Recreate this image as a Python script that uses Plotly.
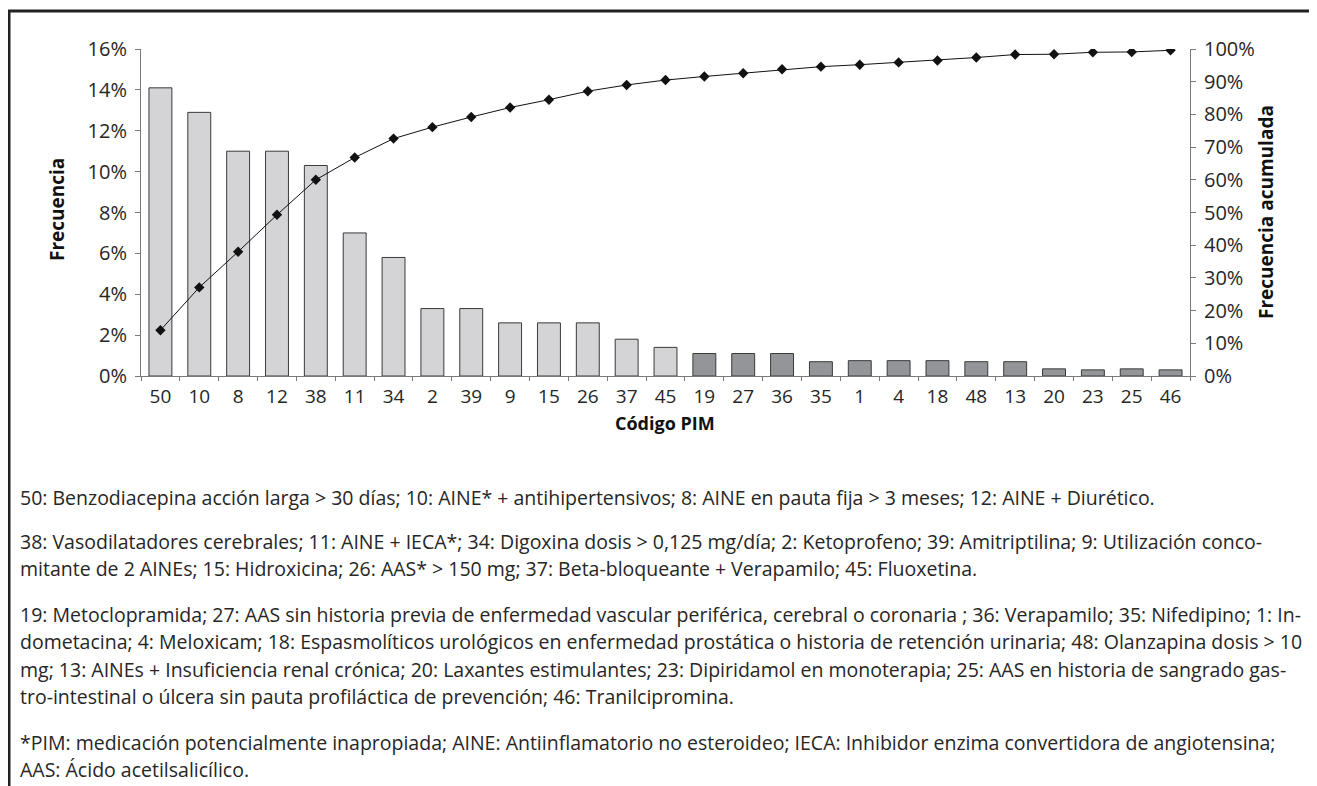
import plotly.graph_objects as go

codes = ["50", "10", "8", "12", "38", "11", "34", "2", "39", "9", "15", "26", "37", "45",
         "19", "27", "36", "35", "1", "4", "18", "48", "13", "20", "23", "25", "46"]
frecuencia = [14.1, 12.9, 11.0, 11.0, 10.3, 7.0, 5.8, 3.3, 3.3, 2.6, 2.6, 2.6, 1.8, 1.4,
              1.1, 1.1, 1.1, 0.7, 0.75, 0.75, 0.75, 0.7, 0.7, 0.35, 0.3, 0.35, 0.3]
frec_acumulada = [14.0, 27.1, 38.0, 49.3, 60.0, 66.8, 72.6, 76.1, 79.2, 82.1, 84.5, 87.1, 89.0, 90.5,
                  91.6, 92.6, 93.8, 94.6, 95.2, 95.9, 96.5, 97.4, 98.3, 98.4, 99.0, 99.1, 99.6]
grupo = ["A"] * 14 + ["B"] * 13

left_ticks = [0, 2, 4, 6, 8, 10, 12, 14, 16]
right_ticks = [0, 10, 20, 30, 40, 50, 60, 70, 80, 90, 100]

footnotes = [
    ["50: Benzodiacepina acción larga > 30 días; 10: AINE* + antihipertensivos; 8: AINE en pauta fija > 3 meses; 12: AINE + Diurético."],
    ["38: Vasodilatadores cerebrales; 11: AINE + IECA*; 34: Digoxina dosis > 0,125 mg/día; 2: Ketoprofeno; 39: Amitriptilina; 9: Utilización conco-",
     "mitante de 2 AINEs; 15: Hidroxicina; 26: AAS* > 150 mg; 37: Beta-bloqueante + Verapamilo; 45: Fluoxetina."],
    ["19: Metoclopramida; 27: AAS sin historia previa de enfermedad vascular periférica, cerebral o coronaria ; 36: Verapamilo; 35: Nifedipino; 1: In-",
     "dometacina; 4: Meloxicam; 18: Espasmolíticos urológicos en enfermedad prostática o historia de retención urinaria; 48: Olanzapina dosis > 10",
     "mg; 13: AINEs + Insuficiencia renal crónica; 20: Laxantes estimulantes; 23: Dipiridamol en monoterapia; 25: AAS en historia de sangrado gas-",
     "tro-intestinal o úlcera sin pauta profiláctica de prevención; 46: Tranilcipromina."],
    ["*PIM: medicación potencialmente inapropiada; AINE: Antiinflamatorio no esteroideo; IECA: Inhibidor enzima convertidora de angiotensina;",
     "AAS: Ácido acetilsalicílico."],
]
para_start = [497, 541, 614, 742]
line_gap = 27.5

OFF = 8  # page body margin
W, H = 1317 - OFF, 786 - OFF
L, R, T, B = 141 - OFF, 1190 - OFF, 49 - OFF, 376 - OFF


def xp(px):
    return (px - OFF - L) / (R - L)


def yp(py):
    return (B - (py - OFF)) / (B - T)


color_map = {"A": "#d4d4d6", "B": "#939598"}
FONT = "Open Sans"
TXT = "#262626"

fig = go.Figure()
fig.add_trace(go.Bar(
    x=codes, y=[v / 100 for v in frecuencia],
    marker=dict(color=[color_map[g] for g in grupo], line=dict(color="#3a3a3a", width=1)),
    yaxis="y", showlegend=False,
))
fig.add_trace(go.Scatter(
    x=codes, y=[v / 100 for v in frec_acumulada], yaxis="y2",
    mode="lines+markers",
    line=dict(color="#111111", width=1),
    marker=dict(symbol="diamond", size=8, color="#111111"),
    showlegend=False,
))

fig.update_layout(
    width=W, height=H,
    margin=dict(l=L, r=W - R, t=T, b=H - B, pad=0),
    paper_bgcolor="white", plot_bgcolor="white",
    bargap=0.41,
    font=dict(family=FONT, color=TXT),
    xaxis=dict(
        type="category", range=[-0.5, len(codes) - 0.5],
        showgrid=False, showline=True, linecolor="#7a7a7a", linewidth=1,
        ticks="outside", ticklen=4, tickcolor="#7a7a7a", tickson="boundaries",
        ticklabelstandoff=3,
        tickfont=dict(size=19, family=FONT, color=TXT),
    ),
    yaxis=dict(
        range=[0, 0.16], tickvals=[v / 100 for v in left_ticks], tickformat=".0%",
        showgrid=False, showline=True, linecolor="#7a7a7a", linewidth=1,
        ticks="outside", ticklen=5, tickcolor="#7a7a7a", zeroline=False,
        ticklabelstandoff=4,
        tickfont=dict(size=20, family=FONT, color=TXT),
    ),
    yaxis2=dict(
        range=[0, 1.0], tickvals=[v / 100 for v in right_ticks], tickformat=".0%",
        overlaying="y", side="right",
        showgrid=False, showline=True, linecolor="#7a7a7a", linewidth=1,
        ticks="outside", ticklen=5, tickcolor="#7a7a7a", zeroline=False,
        ticklabelstandoff=4,
        tickfont=dict(size=20, family=FONT, color=TXT),
    ),
)

ann = []
ann.append(dict(text="<b>Frecuencia</b>", x=xp(42), y=yp(210), xref="paper", yref="paper",
                textangle=-90, showarrow=False, font=dict(size=19, family=FONT, color="#111")))
ann.append(dict(text="<b>Frecuencia acumulada</b>", x=xp(1281), y=yp(212), xref="paper", yref="paper",
                textangle=-90, showarrow=False, font=dict(size=19, family=FONT, color="#111")))
ann.append(dict(text="<b>Código PIM</b>", x=xp(665), y=yp(437), xref="paper", yref="paper",
                showarrow=False, font=dict(size=18, family=FONT, color="#111")))

for start, para in zip(para_start, footnotes):
    for j, line in enumerate(para):
        ann.append(dict(text=line, x=xp(18), y=yp(start + j * line_gap), xref="paper", yref="paper",
                        xanchor="left", yanchor="middle", showarrow=False,
                        font=dict(size=19.5, family=FONT, color=TXT)))
fig.update_layout(annotations=ann)

fig.add_shape(type="line", xref="paper", yref="paper", x0=xp(8), x1=xp(1320), y0=yp(11), y1=yp(11),
              line=dict(color="#222", width=3))
fig.add_shape(type="line", xref="paper", yref="paper", x0=xp(9), x1=xp(9), y0=yp(10), y1=yp(790),
              line=dict(color="#222", width=3))

fig.write_html("out.html")
